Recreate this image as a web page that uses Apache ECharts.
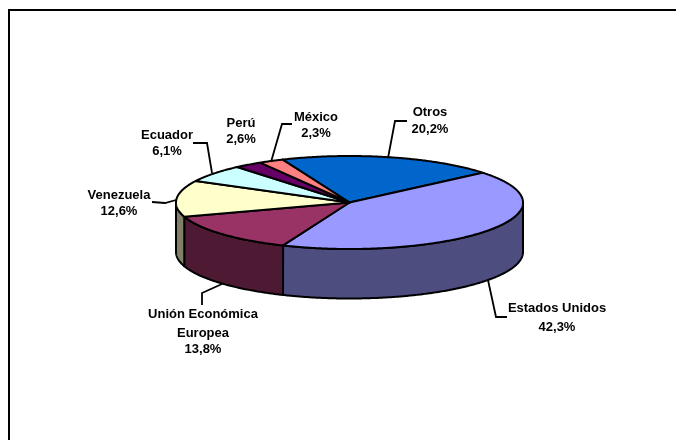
<!DOCTYPE html>
<html>
<head>
<meta charset="utf-8">
<style>html,body{margin:0;padding:0;background:#fff}#chart{width:676px;height:440px}</style>
<script src="https://cdn.jsdelivr.net/npm/echarts@6/dist/echarts.min.js"></script>
</head>
<body>
<div id="chart"></div>
<script>
// Export shares by destination, in clockwise order from the first slice.
const categories = ['Otros', 'Estados Unidos', 'Unión Económica\nEuropea', 'Venezuela', 'Ecuador', 'Perú', 'México'];
const shares = [20.2, 42.3, 13.8, 12.6, 6.1, 2.6, 2.3];
const topColors = ['#0066CC', '#9999FF', '#993366', '#FFFFCC', '#CCFFFF', '#660066', '#FF8080'];
const sideColors = ['#003366', '#4D4D80', '#4D1933', '#808066', '#668080', '#330033', '#804040'];

// Geometry of the tilted disc.
const disc = { cx: 349.5, cy: 202.5, rx: 173.5, ry: 46.5, depth: 49.5, startDeg: 112.7 };
const edge = '#000';
const edgeWidth = 2;

// Text rows (one centre per row) and leader polylines for each slice.
const labelCentreX = [430, 557, 203, 119, 167, 241, 316];
const labelRowY = [
  [112, 129], [308, 327], [314, 333, 349], [195, 211], [135, 151], [123, 139], [117, 133]
];
const leaders = [
  [[388, 158], [395, 121], [407, 121]],
  [[488, 280], [496, 317], [507, 317]],
  [[222, 284], [202, 293], [202, 305]],
  [[176, 200], [165, 203], [152, 202]],
  [[212, 173], [207, 143], [193, 143]],
  null,
  [[271, 162], [282, 124], [292, 124]]
];

const total = shares.reduce((a, b) => a + b, 0);

// Angular span of a slice, going clockwise, in degrees.
function spanOf(index) {
  const before = shares.slice(0, index).reduce((a, b) => a + b, 0);
  const from = disc.startDeg - before / total * 360;
  return [from, from - shares[index] / total * 360];
}

function rimPoint(deg, drop) {
  const t = deg * Math.PI / 180;
  return [disc.cx + disc.rx * Math.cos(t), disc.cy - disc.ry * Math.sin(t) + drop];
}

function arc(from, to, drop) {
  const steps = Math.max(2, Math.ceil(Math.abs(from - to) * 2));
  const pts = [];
  for (let i = 0; i <= steps; i++) pts.push(rimPoint(from + (to - from) * i / steps, drop));
  return pts;
}

// Rim wall: only the part of a slice on the near half (angles -180..0) shows.
function renderSide(params) {
  const [from, to] = spanOf(params.dataIndex);
  const hi = Math.min(from, 0);
  const lo = Math.max(to, -180);
  if (hi <= lo) return { type: 'group', children: [] };
  return {
    type: 'polygon',
    shape: { points: arc(hi, lo, 0).concat(arc(lo, hi, disc.depth)) },
    style: { fill: sideColors[params.dataIndex], stroke: edge, lineWidth: edgeWidth, lineJoin: 'round' }
  };
}

function renderTop(params) {
  const [from, to] = spanOf(params.dataIndex);
  return {
    type: 'polygon',
    shape: { points: [[disc.cx, disc.cy]].concat(arc(from, to, 0)) },
    style: { fill: topColors[params.dataIndex], stroke: edge, lineWidth: edgeWidth, lineJoin: 'round' }
  };
}

function renderCallout(params) {
  const i = params.dataIndex;
  const rows = categories[i].split('\n').concat(shares[i].toFixed(1).replace('.', ',') + '%');
  const children = rows.map(function (row, r) {
    return {
      type: 'text',
      style: {
        x: labelCentreX[i], y: labelRowY[i][r], text: row,
        fill: '#000', align: 'center', verticalAlign: 'middle',
        font: 'bold 13px "Liberation Sans", Arial, sans-serif'
      }
    };
  });
  if (leaders[i]) {
    children.push({
      type: 'polyline',
      shape: { points: leaders[i] },
      style: { fill: null, stroke: edge, lineWidth: 1.8 }
    });
  }
  return { type: 'group', children: children };
}

const chart = echarts.init(document.getElementById('chart'), null, { renderer: 'canvas' });
const common = { type: 'custom', coordinateSystem: 'none', data: shares, silent: true, animation: false };
chart.setOption({
  backgroundColor: '#fff',
  animation: false,
  graphic: [
    { type: 'line', shape: { x1: 8, y1: 10, x2: 676, y2: 10 }, style: { stroke: '#000', lineWidth: 2 } },
    { type: 'line', shape: { x1: 9, y1: 9, x2: 9, y2: 440 }, style: { stroke: '#000', lineWidth: 2 } }
  ],
  series: [
    Object.assign({ renderItem: renderSide, z: 2 }, common),
    Object.assign({ renderItem: renderTop, z: 3 }, common),
    Object.assign({ renderItem: renderCallout, z: 4 }, common)
  ]
});
</script>
</body>
</html>
